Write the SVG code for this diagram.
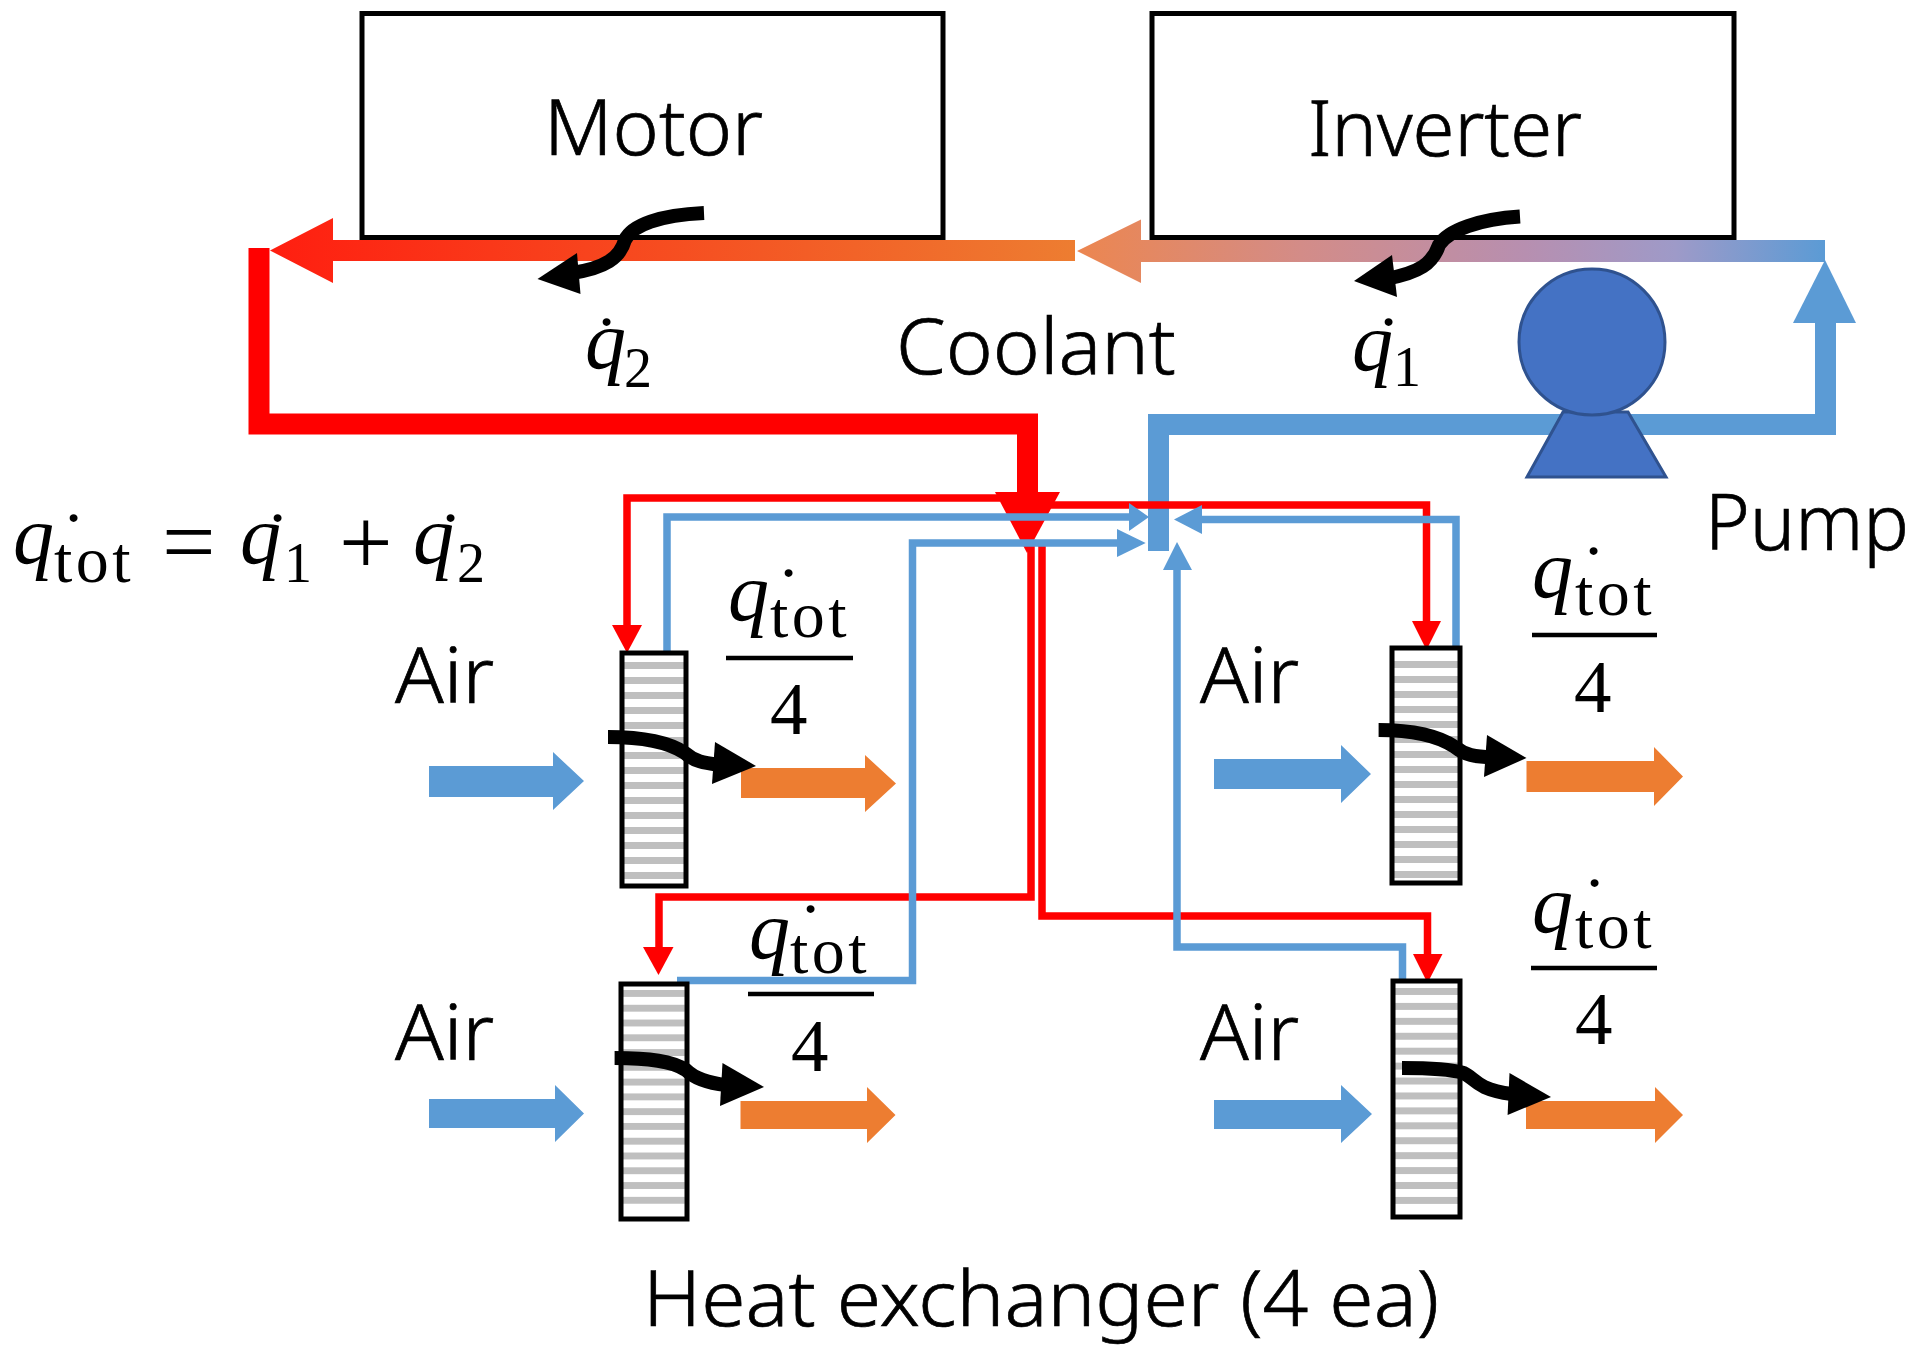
<svg xmlns="http://www.w3.org/2000/svg" width="1918" height="1353" viewBox="0 0 1918 1353">
<style>
text{fill:#000}
.s{font-family:"Noto Sans","Open Sans",sans-serif;font-size:78px;font-weight:300;stroke:#000;stroke-width:.7}
.m{font-family:"Liberation Serif",serif;font-size:75px}
.q{font-style:italic;font-size:82px}
.sub{font-size:56px}
.tot{font-size:66px;letter-spacing:3.500px}
.op{font-size:95px}
.box{fill:#fff;stroke:#000;stroke-width:5}
.hx{fill:none;stroke:#000;stroke-width:5}
.bar{stroke:#000;stroke-width:4.5}
.stripe{fill:#BFBFBF}
.red{fill:#F00}
.blue{fill:#5B9BD5}
.org{fill:#ED7D31}
.rl{fill:none;stroke:#F00;stroke-width:7.5}
.bl{fill:none;stroke:#5B9BD5;stroke-width:7.5}
.rp{fill:none;stroke:#F00;stroke-width:21}
.bp{fill:none;stroke:#5B9BD5;stroke-width:21}
.pump{fill:#4472C4;stroke:#2F528F;stroke-width:3}
.hs{fill:none;stroke:#000;stroke-width:14}
.hh{fill:#000}
</style>
<defs>
<linearGradient id="g1" gradientUnits="userSpaceOnUse" x1="270" y1="0" x2="1075" y2="0"><stop offset="0" stop-color="#FF1E10"/><stop offset="1" stop-color="#ED7D31"/></linearGradient>
<linearGradient id="g2" gradientUnits="userSpaceOnUse" x1="1077" y1="0" x2="1825" y2="0"><stop offset="0" stop-color="#EC8650"/><stop offset=".3" stop-color="#D38C88"/><stop offset=".6" stop-color="#B78FB0"/><stop offset=".8" stop-color="#9E9AC8"/><stop offset="1" stop-color="#5B9BD5"/></linearGradient>
<g id="stripes">
<rect class="stripe" y="0" width="60" height="7"/><rect class="stripe" y="15" width="60" height="7"/><rect class="stripe" y="30" width="60" height="7"/><rect class="stripe" y="45" width="60" height="7"/><rect class="stripe" y="60" width="60" height="7"/><rect class="stripe" y="75" width="60" height="7"/><rect class="stripe" y="90" width="60" height="7"/><rect class="stripe" y="105" width="60" height="7"/><rect class="stripe" y="120" width="60" height="7"/><rect class="stripe" y="135" width="60" height="7"/><rect class="stripe" y="150" width="60" height="7"/><rect class="stripe" y="165" width="60" height="7"/><rect class="stripe" y="180" width="60" height="7"/><rect class="stripe" y="195" width="60" height="7"/><rect class="stripe" y="210" width="60" height="7"/>
</g>
</defs>
<rect width="1918" height="1353" fill="#fff"/>

<g id="motor"><rect class="box" x="362" y="13.500" width="581" height="224"/><text class="s" x="544" y="155" textLength="219" lengthAdjust="spacingAndGlyphs">Motor</text></g>
<g id="inverter"><rect class="box" x="1152" y="13.500" width="582" height="224"/><text class="s" x="1308" y="156" textLength="274" lengthAdjust="spacingAndGlyphs">Inverter</text></g>

<g id="connectors">
<polygon fill="url(#g1)" points="1075,240 333,240 333,218 270,250.500 333,283 333,261 1075,261"/>
<polygon fill="url(#g2)" points="1825,240 1141,240 1141,219.500 1077,251 1141,283 1141,262 1825,262"/>
<path class="rp" d="M259 248V424H1027.500V500"/>
<path class="bp" d="M1158.500 551V424.500H1825.500V320"/>
<polygon class="blue" points="1825,260 1793,323 1856,323"/>
<polygon class="red" points="995,492 1060,492 1027,553"/>
<path class="rl" d="M1000 498H627V630"/>
<polygon class="red" points="612,625 642,625 627,653"/>
<path class="rl" d="M1050 505H1426.500V625"/>
<polygon class="red" points="1412,621 1441,621 1426.500,650"/>
<path class="rl" d="M1031 540V897H659V952"/>
<polygon class="red" points="643,947 673.500,947 658.500,975"/>
<path class="rl" d="M1042 540V916H1427.500V960"/>
<polygon class="red" points="1413,954 1442.500,954 1427.500,983"/>
<path class="bl" d="M667 658V517H1132"/>
<polygon class="blue" points="1129,503 1149,517 1129,531"/>
<path class="bl" d="M677 980.500H912.500V543H1120"/>
<polygon class="blue" points="1117,529 1145.700,543 1117,557"/>
<path class="bl" d="M1456 648V519.500H1198"/>
<polygon class="blue" points="1202,505 1174,519.500 1202,534"/>
<path class="bl" d="M1402.500 989V947H1177V566"/>
<polygon class="blue" points="1163,570 1192,570 1177,542"/>
</g>

<g id="pump"><polygon class="pump" points="1563,412 1628,412 1666,477 1527,477"/><ellipse class="pump" cx="1592" cy="342" rx="73" ry="73"/><text class="s" x="1705" y="550" textLength="204" lengthAdjust="spacingAndGlyphs">Pump</text></g>

<g id="hx-tl"><rect fill="#fff" x="622" y="653" width="64" height="233"/><use href="#stripes" transform="translate(624 662)"/><rect class="hx" x="622" y="653" width="64" height="233"/></g>
<g id="hx-tr"><rect fill="#fff" x="1392" y="648" width="68" height="235"/><use href="#stripes" transform="translate(1394 661) scale(1.07 1)"/><rect class="hx" x="1392" y="648" width="68" height="235"/></g>
<g id="hx-bl"><rect fill="#fff" x="621" y="984" width="66" height="235"/><use href="#stripes" transform="translate(623 990) scale(1.03 .985)"/><rect class="hx" x="621" y="984" width="66" height="235"/></g>
<g id="hx-br"><rect fill="#fff" x="1393" y="981" width="67" height="236"/><use href="#stripes" transform="translate(1395 988) scale(1.05 .995)"/><rect class="hx" x="1393" y="981" width="67" height="236"/></g>

<g id="air-flows">
<polygon class="blue" points="429,766 553,766 553,752 584,781 553,810 553,797 429,797"/>
<polygon class="blue" points="1214,759 1341,759 1341,745 1371,774 1341,803 1341,789 1214,789"/>
<polygon class="blue" points="429,1099 555,1099 555,1085 584,1113.500 555,1142 555,1128 429,1128"/>
<polygon class="blue" points="1214,1100 1341,1100 1341,1085 1372,1114 1341,1143 1341,1129 1214,1129"/>
<polygon class="org" points="741,768 865,768 865,755 896,783.500 865,812 865,798 741,798"/>
<polygon class="org" points="1526.500,761 1654,761 1654,747 1683,776.500 1654,806 1654,792 1526.500,792"/>
<polygon class="org" points="740.500,1101 867,1101 867,1087 895.500,1115 867,1143 867,1129 740.500,1129"/>
<polygon class="org" points="1526,1101 1655,1101 1655,1087 1683,1115 1655,1143 1655,1129 1526,1129"/>
</g>

<g id="heat-arrows">
<path class="hs" d="M704 213C660 215 632 225 625 240C620 258 605 268 572 273"/><polygon class="hh" points="537.500,279 577,253 580.500,294"/>
<path class="hs" d="M1520 216.500C1480 219 1448 230 1439 245C1433 263 1420 273 1385 279"/><polygon class="hh" points="1354,281 1392,255 1397,297"/>
<path class="hs" d="M608 737C645 737 670 743 685 753C695 762 705 763 720 765"/><polygon class="hh" points="756,766 715,742 712,784"/>
<path class="hs" d="M1378.600 730C1415 730 1440 737 1455 747C1465 755 1475 757 1492 757"/><polygon class="hh" points="1526.500,758 1487,735 1484,777"/>
<path class="hs" d="M614.600 1058C650 1058 672 1061 686 1070C695 1079 708 1083 726 1085"/><polygon class="hh" points="764,1087 722.500,1063 720,1106"/>
<path class="hs" d="M1402 1068C1430 1068 1450 1069 1463.500 1073C1475 1078 1475 1089 1512 1094"/><polygon class="hh" points="1551,1097 1509.500,1073 1507.600,1115"/>
</g>

<g id="labels">
<text class="s" x="896" y="374" textLength="280" lengthAdjust="spacingAndGlyphs">Coolant</text>
<text class="s" x="395" y="703" textLength="99" lengthAdjust="spacingAndGlyphs">Air</text>
<text class="s" x="1200" y="703" textLength="99" lengthAdjust="spacingAndGlyphs">Air</text>
<text class="s" x="395" y="1060" textLength="99" lengthAdjust="spacingAndGlyphs">Air</text>
<text class="s" x="1200" y="1060" textLength="99" lengthAdjust="spacingAndGlyphs">Air</text>
<text class="s" x="643" y="1326" textLength="796" lengthAdjust="spacingAndGlyphs">Heat exchanger (4 ea)</text>

<text class="m"><tspan class="q" x="585" y="368">q</tspan><tspan x="594" y="367">˙</tspan><tspan class="sub" x="624" y="387">2</tspan></text>
<text class="m"><tspan class="q" x="1352" y="370">q</tspan><tspan x="1376" y="367">˙</tspan><tspan class="sub" x="1393" y="386">1</tspan></text>

<text class="m"><tspan class="q" x="13" y="563">q</tspan><tspan x="61" y="563">˙</tspan><tspan class="tot" x="54" y="582">tot</tspan><tspan class="op" x="162" y="574">=</tspan></text>
<text class="m"><tspan class="q" x="240" y="563">q</tspan><tspan x="265" y="563">˙</tspan><tspan class="sub" x="284" y="582">1</tspan><tspan class="op" x="339" y="574">+</tspan></text>
<text class="m"><tspan class="q" x="413" y="563">q</tspan><tspan x="438" y="563">˙</tspan><tspan class="sub" x="457" y="582">2</tspan></text>

<text class="m"><tspan class="q" x="728" y="620">q</tspan><tspan x="776" y="618">˙</tspan><tspan class="tot" x="770" y="637">tot</tspan></text>
<line class="bar" x1="726" y1="658" x2="853" y2="658"/>
<text class="m" x="770" y="734">4</text>

<text class="m"><tspan class="q" x="1532" y="597">q</tspan><tspan x="1581" y="596">˙</tspan><tspan class="tot" x="1575" y="615">tot</tspan></text>
<line class="bar" x1="1532" y1="635" x2="1657" y2="635"/>
<text class="m" x="1574" y="712">4</text>

<text class="m"><tspan class="q" x="749" y="958">q</tspan><tspan x="798" y="954">˙</tspan><tspan class="tot" x="790" y="973">tot</tspan></text>
<line class="bar" x1="748" y1="994" x2="874" y2="994"/>
<text class="m" x="791" y="1071">4</text>

<text class="m"><tspan class="q" x="1532" y="932">q</tspan><tspan x="1582" y="928">˙</tspan><tspan class="tot" x="1575" y="948">tot</tspan></text>
<line class="bar" x1="1531" y1="968" x2="1657" y2="968"/>
<text class="m" x="1575" y="1044">4</text>
</g>
</svg>
